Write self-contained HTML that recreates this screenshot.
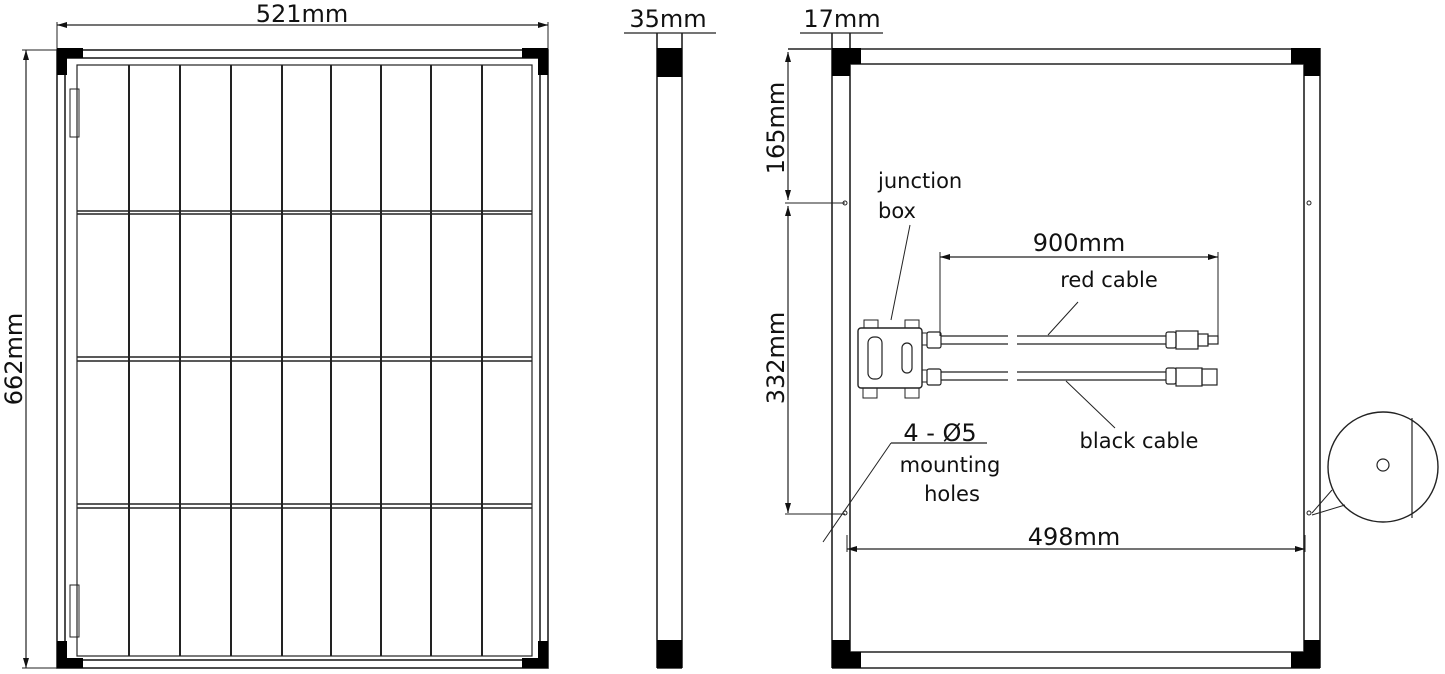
<!DOCTYPE html>
<html><head><meta charset="utf-8"><style>
html,body{margin:0;padding:0;background:#fff;}
svg{display:block;}
text{font-family:"DejaVu Sans","Liberation Sans",sans-serif;fill:#111;}
</style></head><body>
<svg width="1445" height="674" viewBox="0 0 1445 674" xmlns="http://www.w3.org/2000/svg">
<defs>
<marker id="a" markerWidth="10" markerHeight="6" refX="10" refY="3" orient="auto-start-reverse" markerUnits="userSpaceOnUse"><path d="M0,0 L10,3 L0,6 Z" fill="#111"/></marker>
</defs>
<g stroke="#222" stroke-width="1.6" fill="none">
<!-- LEFT PANEL -->
<rect x="57" y="50" width="491" height="618"/>
<rect x="65" y="58" width="475" height="602"/>
<rect x="77" y="65" width="455" height="591" stroke-width="1.2"/>
<g stroke-width="2">
<line x1="129" y1="65" x2="129" y2="656"/><line x1="180" y1="65" x2="180" y2="656"/>
<line x1="231" y1="65" x2="231" y2="656"/><line x1="282" y1="65" x2="282" y2="656"/>
<line x1="331" y1="65" x2="331" y2="656"/><line x1="381" y1="65" x2="381" y2="656"/>
<line x1="431" y1="65" x2="431" y2="656"/><line x1="482" y1="65" x2="482" y2="656"/>
</g>
<g stroke-width="1.4">
<line x1="77" y1="211" x2="532" y2="211"/><line x1="77" y1="214" x2="532" y2="214"/>
<line x1="77" y1="357" x2="532" y2="357"/><line x1="77" y1="361" x2="532" y2="361"/>
<line x1="77" y1="504" x2="532" y2="504"/><line x1="77" y1="508" x2="532" y2="508"/>
</g>
<rect x="70" y="89" width="9" height="48" stroke-width="1"/>
<rect x="70" y="585" width="9" height="52" stroke-width="1"/>
<!-- dims left -->
<line x1="57" y1="25" x2="548" y2="25" marker-start="url(#a)" marker-end="url(#a)" stroke-width="1.2"/>
<line x1="57" y1="22" x2="57" y2="50" stroke-width="1"/><line x1="548" y1="22" x2="548" y2="50" stroke-width="1"/>
<line x1="26" y1="50" x2="26" y2="668" marker-start="url(#a)" marker-end="url(#a)" stroke-width="1.2"/>
<line x1="22" y1="50" x2="57" y2="50" stroke-width="1"/><line x1="22" y1="668" x2="57" y2="668" stroke-width="1"/>
<!-- MIDDLE -->
<line x1="657" y1="33" x2="657" y2="668"/><line x1="682" y1="33" x2="682" y2="668"/>
<line x1="657" y1="668" x2="682" y2="668"/>
<line x1="624" y1="33" x2="716" y2="33" stroke-width="1.2"/>
<!-- RIGHT PANEL -->
<line x1="832" y1="33" x2="832" y2="668"/><line x1="850" y1="33" x2="850" y2="668"/>
<line x1="1304" y1="48" x2="1304" y2="668"/><line x1="1320" y1="48" x2="1320" y2="668"/>
<line x1="788" y1="49" x2="1320" y2="49"/><line x1="832" y1="64" x2="1320" y2="64"/>
<line x1="832" y1="652" x2="1320" y2="652"/><line x1="832" y1="668" x2="1320" y2="668"/>
<line x1="800" y1="33" x2="883" y2="33" stroke-width="1.2"/>
<line x1="788" y1="52" x2="788" y2="200" marker-start="url(#a)" marker-end="url(#a)" stroke-width="1.2"/>
<line x1="788" y1="206" x2="788" y2="513" marker-start="url(#a)" marker-end="url(#a)" stroke-width="1.2"/>
<line x1="785" y1="203" x2="845" y2="203" stroke-width="1"/>
<line x1="785" y1="514" x2="845" y2="514" stroke-width="1"/>
<circle cx="845" cy="203" r="2" stroke-width="1"/><circle cx="1309" cy="203" r="2" stroke-width="1"/>
<circle cx="1309" cy="513" r="2" stroke-width="1"/><circle cx="845" cy="513" r="2" stroke-width="1"/>
<!-- junction box -->
<rect x="858" y="328" width="64" height="60" rx="3" stroke-width="1.4"/>
<rect x="868" y="337" width="14" height="42" rx="6" stroke-width="1.2"/>
<rect x="902" y="343" width="10" height="30" rx="5" stroke-width="1.2"/>
<rect x="864" y="320" width="14" height="8" stroke-width="1"/><rect x="905" y="320" width="14" height="8" stroke-width="1"/>
<rect x="863" y="388" width="14" height="10" stroke-width="1"/><rect x="905" y="388" width="14" height="10" stroke-width="1"/>
<rect x="922" y="333" width="5" height="12" stroke-width="1"/><rect x="927" y="332" width="14" height="16" rx="2" stroke-width="1.2"/>
<rect x="922" y="370" width="5" height="12" stroke-width="1"/><rect x="927" y="369" width="14" height="16" rx="2" stroke-width="1.2"/>
<g stroke-width="1.2">
<path d="M941 336 H1008 M941 344 H1008 M1017 336 H1166 M1017 344 H1166"/>
<path d="M941 372 H1008 M941 380 H1008 M1017 372 H1166 M1017 380 H1166"/>
<rect x="1166" y="332" width="10" height="16" rx="2"/><rect x="1176" y="331" width="22" height="18"/><rect x="1198" y="334" width="10" height="12"/><rect x="1208" y="336" width="10" height="8"/>
<rect x="1166" y="368" width="10" height="16" rx="2"/><rect x="1176" y="368" width="26" height="18"/><rect x="1202" y="369" width="15" height="16"/>
<line x1="940" y1="252" x2="940" y2="336" stroke-width="1"/><line x1="1218" y1="252" x2="1218" y2="336" stroke-width="1"/>
<line x1="940" y1="257" x2="1218" y2="257" marker-start="url(#a)" marker-end="url(#a)"/>
<line x1="1048" y1="335" x2="1078" y2="302" stroke-width="1"/>
<line x1="1066" y1="381" x2="1115" y2="428" stroke-width="1"/>
<line x1="910" y1="225" x2="891" y2="320" stroke-width="1"/>
<line x1="891" y1="443" x2="987" y2="443" stroke-width="1.2"/>
<line x1="891" y1="443" x2="823" y2="542" stroke-width="1"/>
<line x1="847" y1="535" x2="847" y2="552" stroke-width="1"/><line x1="1305" y1="535" x2="1305" y2="552" stroke-width="1"/>
<line x1="847" y1="549" x2="1305" y2="549" marker-start="url(#a)" marker-end="url(#a)"/>
</g>
<!-- magnifier -->
<circle cx="1383" cy="467" r="55" stroke-width="1.4"/>
<circle cx="1383" cy="465" r="6" stroke-width="1.2"/>
<line x1="1412" y1="418" x2="1412" y2="518" stroke-width="1.2"/>
<line x1="1332" y1="490" x2="1312" y2="513" stroke-width="1"/>
<line x1="1345" y1="505" x2="1312" y2="515" stroke-width="1"/>
</g>
<g fill="#000">
<path d="M57 48 h26 v10 h-16 v17 h-10 z"/><path d="M548 48 h-26 v10 h16 v17 h10 z"/>
<path d="M57 668 h26 v-10 h-16 v-17 h-10 z"/><path d="M548 668 h-26 v-10 h16 v-17 h10 z"/>
<rect x="657" y="48" width="25" height="29"/><rect x="657" y="640" width="25" height="28"/>
<path d="M832 48 h29 v16 h-11 v12 h-18 z"/><path d="M1320 48 h-29 v16 h13 v12 h16 z"/>
<path d="M832 668 h29 v-16 h-11 v-12 h-18 z"/><path d="M1320 668 h-29 v-16 h13 v-12 h16 z"/>
</g>
<g font-size="24">
<text x="302" y="22" text-anchor="middle">521mm</text>
<text transform="translate(22,359) rotate(-90)" text-anchor="middle">662mm</text>
<text x="668" y="27" text-anchor="middle">35mm</text>
<text x="842" y="27" text-anchor="middle">17mm</text>
<text transform="translate(784,128) rotate(-90)" text-anchor="middle">165mm</text>
<text transform="translate(784,358) rotate(-90)" text-anchor="middle">332mm</text>
<text x="1079" y="251" text-anchor="middle">900mm</text>
<text x="1074" y="545" text-anchor="middle">498mm</text>
<text x="940" y="441" text-anchor="middle">4 - Ø5</text>
</g>
<g font-size="21">
<text x="878" y="188">junction</text>
<text x="878" y="218">box</text>
<text x="1109" y="287" text-anchor="middle">red cable</text>
<text x="1139" y="448" text-anchor="middle">black cable</text>
<text x="950" y="472" text-anchor="middle">mounting</text>
<text x="952" y="501" text-anchor="middle">holes</text>
</g>
</svg>
</body></html>
